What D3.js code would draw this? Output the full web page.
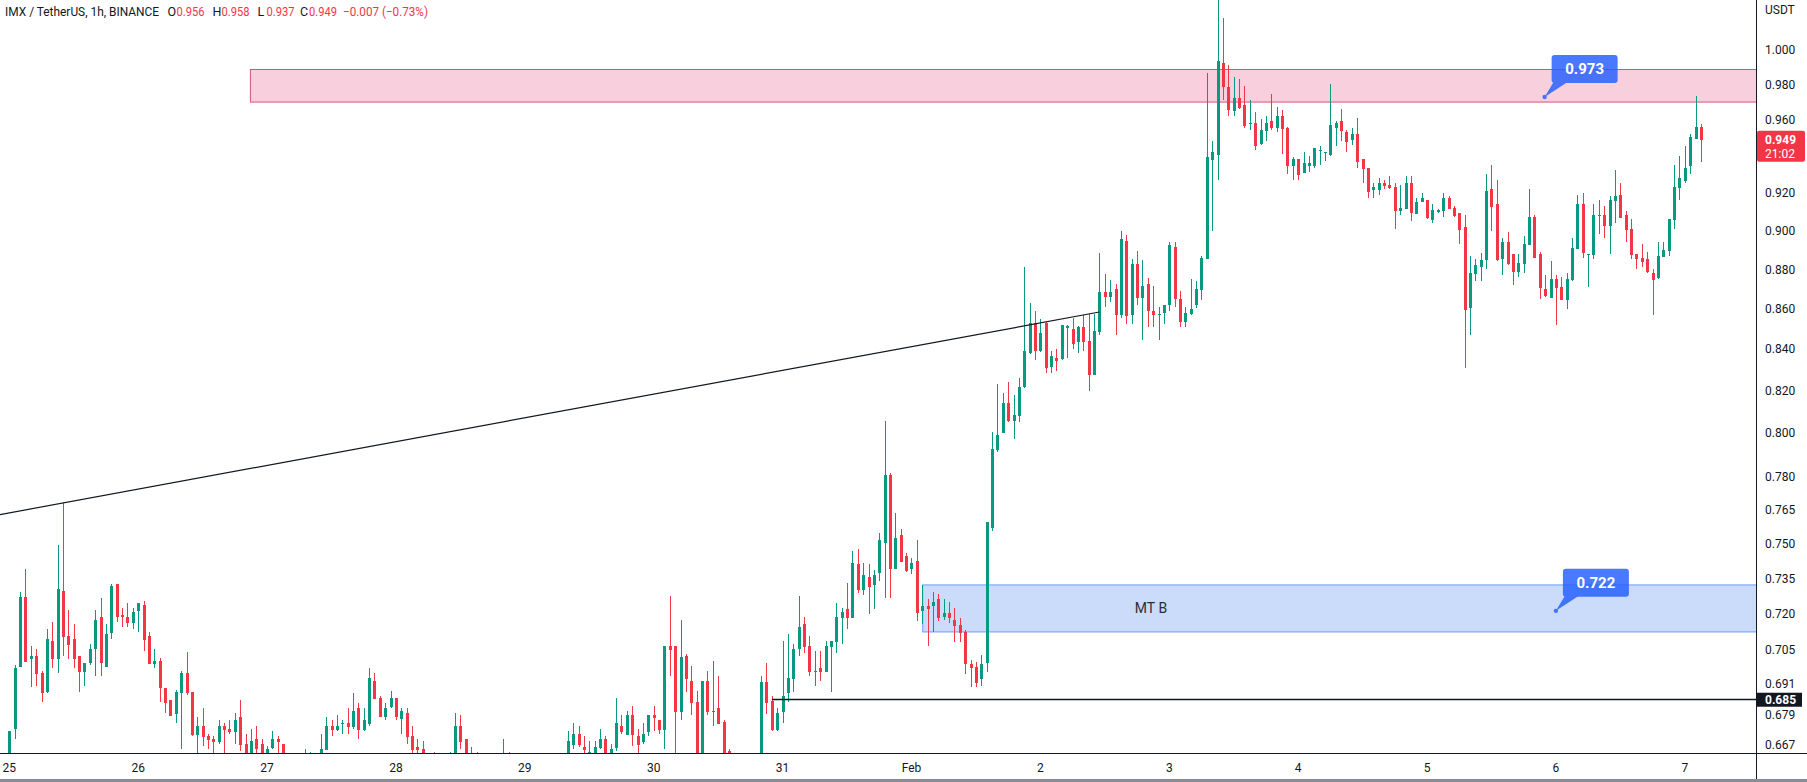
<!DOCTYPE html>
<html>
<head>
<meta charset="utf-8">
<script src="https://cdn.jsdelivr.net/npm/d3@7"></script>
<style>
  html, body { margin: 0; padding: 0; background: #fff; }
  svg { display: block; font-family: Roboto, "Liberation Sans", sans-serif; }
</style>
</head>
<body>
<svg id="chart" width="1807" height="782"></svg>
<script>
// IMX / TetherUS, 1h, BINANCE -- one row per hour, first bar = Jan 25 00:00
// [open, high, low, close]
var candles = [
  // Jan 25
  [0.660,0.6725,0.655,0.6725],[0.6732,0.6986,0.6694,0.6977],[0.698,0.729,0.698,0.727],[0.727,0.739,0.700,0.700],
  [0.7014,0.7066,0.690,0.7025],[0.7025,0.7054,0.6904,0.6953],[0.6956,0.6964,0.6837,0.6873],[0.688,0.7137,0.6876,0.7094],
  [0.7087,0.7166,0.6976,0.7013],[0.7013,0.7494,0.6957,0.7305],[0.7297,0.768,0.7026,0.7104],[0.7107,0.7216,0.7014,0.707],
  [0.7094,0.7157,0.6976,0.7014],[0.7025,0.7025,0.6877,0.6961],[0.6961,0.6998,0.6905,0.6998],[0.6995,0.7076,0.6986,0.7054],
  [0.7053,0.7216,0.6945,0.7174],[0.7187,0.7267,0.6945,0.6995],[0.6981,0.7157,0.6981,0.7116],[0.712,0.7326,0.7096,0.7318],
  [0.7326,0.7326,0.7166,0.7185],[0.7195,0.7225,0.7145,0.7185],[0.7187,0.7246,0.7145,0.7162],[0.7162,0.7225,0.7137,0.7208],
  // Jan 26
  [0.7212,0.7246,0.7124,0.7246],[0.7237,0.7254,0.7046,0.7091],[0.7107,0.7124,0.6992,0.6992],[0.6994,0.7054,0.6976,0.7005],
  [0.7005,0.7017,0.6837,0.6893],[0.6896,0.6896,0.6797,0.6833],[0.6845,0.6845,0.6784,0.6784],[0.6793,0.6885,0.6757,0.6877],
  [0.6873,0.6965,0.6656,0.6957],[0.6957,0.7043,0.6865,0.6873],[0.6877,0.6877,0.6706,0.671],[0.671,0.678,0.662,0.6745],
  [0.6745,0.6817,0.6664,0.6702],[0.6706,0.6714,0.6656,0.669],[0.6694,0.6706,0.663,0.6682],[0.6682,0.6768,0.6675,0.6745],
  [0.6745,0.6757,0.662,0.673],[0.6733,0.6768,0.6714,0.6721],[0.6721,0.6797,0.6675,0.6768],[0.678,0.6845,0.6645,0.6671],
  [0.6675,0.6714,0.658,0.660],[0.661,0.6733,0.658,0.6686],[0.6694,0.6745,0.662,0.6656],[0.6675,0.6694,0.660,0.662],
  // Jan 27
  [0.662,0.6664,0.660,0.6656],[0.666,0.6725,0.6656,0.6694],[0.6694,0.6706,0.662,0.6682],[0.6675,0.6675,0.660,0.662],
  [0.660,0.6625,0.654,0.656],[0.656,0.661,0.651,0.653],[0.653,0.660,0.650,0.658],[0.662,0.6655,0.653,0.656],
  [0.656,0.6643,0.654,0.660],[0.660,0.6625,0.655,0.657],[0.657,0.6713,0.656,0.6655],[0.6651,0.6779,0.6651,0.6744],
  [0.6744,0.6766,0.6706,0.6729],[0.6729,0.6788,0.6725,0.6744],[0.6753,0.6766,0.6713,0.6757],[0.6757,0.6816,0.6713,0.6741],
  [0.6741,0.6876,0.6733,0.6804],[0.6816,0.6836,0.6694,0.6729],[0.6729,0.6816,0.6725,0.6766],[0.6753,0.6976,0.6744,0.6936],
  [0.6924,0.6956,0.6852,0.6852],[0.6856,0.6864,0.678,0.678],[0.678,0.6836,0.6766,0.6816],[0.682,0.6884,0.6816,0.6856],
  // Jan 28
  [0.6856,0.6856,0.6766,0.678],[0.6772,0.6816,0.6713,0.6804],[0.6796,0.6816,0.6675,0.6702],[0.6706,0.6744,0.660,0.6651],
  [0.6663,0.6694,0.660,0.6651],[0.6655,0.6686,0.657,0.659],[0.659,0.662,0.653,0.656],[0.660,0.6643,0.652,0.655],
  [0.655,0.659,0.649,0.652],[0.652,0.660,0.650,0.656],[0.656,0.6643,0.654,0.661],[0.661,0.6796,0.659,0.6744],
  [0.6744,0.6788,0.6655,0.6682],[0.6694,0.6694,0.657,0.660],[0.658,0.6663,0.656,0.662],[0.662,0.6643,0.655,0.658],
  [0.658,0.661,0.652,0.655],[0.655,0.660,0.652,0.657],[0.657,0.660,0.651,0.654],[0.654,0.659,0.650,0.656],
  [0.656,0.6694,0.654,0.660],[0.660,0.6643,0.652,0.655],[0.655,0.661,0.651,0.658],[0.658,0.662,0.653,0.654],
  // Jan 29
  [0.654,0.659,0.650,0.656],[0.656,0.660,0.652,0.653],[0.653,0.658,0.649,0.655],[0.655,0.661,0.652,0.659],
  [0.659,0.662,0.654,0.656],[0.656,0.660,0.652,0.657],[0.657,0.662,0.654,0.660],[0.660,0.663,0.655,0.658],
  [0.658,0.6725,0.656,0.6686],[0.6671,0.6757,0.6655,0.6713],[0.6713,0.6744,0.6663,0.6671],[0.6663,0.6706,0.660,0.6651],
  [0.660,0.6686,0.658,0.6643],[0.661,0.6686,0.659,0.6663],[0.6659,0.6733,0.6655,0.6694],[0.6694,0.6706,0.659,0.661],
  [0.661,0.6675,0.659,0.6655],[0.6659,0.6856,0.6645,0.6757],[0.6744,0.6788,0.6712,0.6721],[0.671,0.6804,0.671,0.6788],
  [0.6788,0.6824,0.6664,0.671],[0.6706,0.6732,0.663,0.6671],[0.6682,0.6757,0.6672,0.6712],[0.6721,0.6788,0.6706,0.6788],
  // Jan 30
  [0.6788,0.6824,0.6725,0.6776],[0.6766,0.6766,0.6712,0.6729],[0.6729,0.7066,0.6654,0.7066],[0.7066,0.7275,0.6944,0.705],
  [0.7066,0.7066,0.660,0.680],[0.680,0.7174,0.6766,0.7019],[0.7025,0.7032,0.6877,0.6933],[0.6924,0.6984,0.6788,0.6833],
  [0.6837,0.6884,0.657,0.660],[0.661,0.6924,0.658,0.6924],[0.6924,0.6964,0.6788,0.680],[0.680,0.7005,0.6744,0.6804],
  [0.6817,0.6944,0.6751,0.6753],[0.6758,0.6766,0.657,0.659],[0.6648,0.6654,0.657,0.660],[0.660,0.663,0.652,0.656],
  [0.656,0.660,0.649,0.653],[0.653,0.661,0.650,0.657],[0.657,0.662,0.652,0.655],[0.655,0.662,0.653,0.659],
  [0.659,0.6944,0.656,0.6918],[0.6918,0.6998,0.6791,0.6833],[0.6844,0.6864,0.6725,0.6729],[0.6729,0.6817,0.6725,0.6797],
  // Jan 31
  [0.680,0.7087,0.6757,0.6864],[0.6873,0.7115,0.6837,0.6937],[0.6933,0.7073,0.6877,0.7053],[0.7053,0.7275,0.7025,0.7145],
  [0.7159,0.7187,0.7036,0.7063],[0.7066,0.7107,0.6944,0.696],[0.696,0.7046,0.6904,0.6964],[0.6977,0.7046,0.6924,0.696],
  [0.696,0.7087,0.696,0.7066],[0.7063,0.7087,0.6877,0.7087],[0.7083,0.7247,0.7036,0.7187],[0.718,0.7222,0.7076,0.7208],
  [0.7219,0.7328,0.7138,0.7184],[0.7184,0.7468,0.7184,0.7418],[0.7411,0.7477,0.7289,0.7301],[0.7301,0.7418,0.7279,0.7364],
  [0.7357,0.7411,0.7198,0.7315],[0.7322,0.7386,0.7219,0.7364],[0.7374,0.7548,0.7339,0.7516],[0.7504,0.8057,0.7268,0.7806],
  [0.7806,0.7816,0.7268,0.7391],[0.7391,0.7637,0.7391,0.7526],[0.7539,0.7565,0.7421,0.7421],[0.7447,0.7458,0.7378,0.7382],
  // Feb 1
  [0.7391,0.7439,0.7367,0.7418],[0.7425,0.7516,0.717,0.7205],[0.7212,0.7321,0.7156,0.7234],[0.7234,0.7262,0.7064,0.7219],
  [0.7232,0.7292,0.7122,0.7249],[0.7262,0.7283,0.717,0.718],[0.7187,0.7262,0.7172,0.7205],[0.7205,0.7249,0.7161,0.718],
  [0.7172,0.7222,0.7084,0.715],[0.7152,0.7183,0.7084,0.712],[0.7123,0.7131,0.695,0.6991],[0.6991,0.701,0.6899,0.6975],
  [0.6979,0.6999,0.6899,0.6915],[0.693,0.7029,0.6902,0.6991],[0.6998,0.7594,0.6961,0.7594],[0.7571,0.8002,0.7556,0.7926],
  [0.792,0.823,0.791,0.7988],[0.7999,0.8186,0.7999,0.8141],[0.8141,0.824,0.805,0.8055],[0.8055,0.8177,0.7971,0.8082],
  [0.8078,0.8262,0.8053,0.8219],[0.8215,0.8812,0.8211,0.8393],[0.8381,0.8628,0.8378,0.8528],[0.8527,0.8589,0.8348,0.839],
  // Feb 2
  [0.839,0.8549,0.8387,0.848],[0.8527,0.8535,0.8283,0.8307],[0.8313,0.8392,0.8283,0.8365],[0.8355,0.840,0.8296,0.8342],
  [0.8354,0.8519,0.8346,0.8519],[0.8506,0.8519,0.8355,0.8512],[0.8501,0.8552,0.840,0.8427],[0.8437,0.8516,0.8381,0.851],
  [0.851,0.8569,0.8392,0.8437],[0.8439,0.8572,0.820,0.8277],[0.8277,0.8573,0.8277,0.849],[0.8485,0.8882,0.8472,0.8685],
  [0.8684,0.8775,0.8607,0.866],[0.866,0.8748,0.8635,0.8684],[0.8699,0.8726,0.8472,0.8569],[0.8569,0.8998,0.8552,0.8958],
  [0.8949,0.8977,0.8524,0.8566],[0.8569,0.8855,0.8522,0.8829],[0.8829,0.8895,0.8617,0.8656],[0.8656,0.8846,0.8443,0.8714],
  [0.8724,0.8757,0.851,0.8588],[0.8591,0.8714,0.851,0.8569],[0.8567,0.8608,0.8443,0.8572],[0.8578,0.8621,0.8522,0.8621],
  // Feb 3
  [0.8618,0.894,0.8588,0.8928],[0.8915,0.894,0.8607,0.8651],[0.8649,0.869,0.8511,0.8536],[0.8536,0.8609,0.8511,0.8579],
  [0.8575,0.8752,0.857,0.8599],[0.8617,0.8741,0.8602,0.8701],[0.8697,0.8869,0.8642,0.8859],[0.8855,0.9867,0.8855,0.9395],
  [0.9379,0.9483,0.900,0.9423],[0.9406,1.030,0.9271,0.9937],[0.9925,1.0188,0.9713,0.9787],[0.9787,0.9913,0.9623,0.9656],
  [0.9651,0.9844,0.9623,0.9724],[0.9724,0.9832,0.9662,0.9667],[0.9685,0.9793,0.9556,0.9567],[0.9578,0.9713,0.9545,0.9584],
  [0.9584,0.9645,0.9434,0.9456],[0.9467,0.9606,0.9461,0.9545],[0.9539,0.9623,0.9483,0.9584],[0.9595,0.9747,0.9545,0.9556],
  [0.9556,0.9673,0.9534,0.9623],[0.9623,0.9656,0.9412,0.955],[0.9556,0.9561,0.9303,0.9346],[0.9346,0.9395,0.9271,0.9384],
  // Feb 4
  [0.9384,0.9384,0.9271,0.9298],[0.9308,0.9423,0.9308,0.9362],[0.9346,0.940,0.9314,0.9362],[0.9346,0.9445,0.9335,0.9445],
  [0.9428,0.9456,0.9352,0.9434],[0.9417,0.9423,0.9373,0.9423],[0.9406,0.9804,0.940,0.9573],[0.9556,0.9595,0.9456,0.9584],
  [0.9595,0.9662,0.9483,0.9539],[0.9534,0.9545,0.9423,0.9478],[0.9489,0.9556,0.9461,0.9523],[0.9523,0.9612,0.9335,0.9368],
  [0.9384,0.9384,0.9255,0.933],[0.9335,0.9335,0.9174,0.9206],[0.9217,0.9255,0.9174,0.9233],[0.9217,0.9282,0.919,0.9255],
  [0.9255,0.9271,0.9222,0.9239],[0.9244,0.9293,0.9222,0.9228],[0.9233,0.9255,0.9009,0.9104],[0.9104,0.9244,0.9083,0.912],
  [0.9115,0.9293,0.9115,0.9255],[0.9255,0.9293,0.9052,0.9094],[0.9088,0.9174,0.9088,0.9153],[0.9153,0.920,0.9153,0.9174],
  // Feb 5
  [0.9163,0.9163,0.9062,0.9068],[0.9057,0.9142,0.9041,0.911],[0.9099,0.9115,0.9094,0.911],[0.9104,0.920,0.9073,0.9174],
  [0.9174,0.9185,0.9115,0.9115],[0.912,0.9131,0.9073,0.9078],[0.9094,0.9094,0.8931,0.9004],[0.902,0.9083,0.8309,0.8594],
  [0.8604,0.8869,0.8469,0.8781],[0.8776,0.8854,0.8741,0.8823],[0.8813,0.8886,0.8741,0.8848],[0.8848,0.9303,0.8802,0.9212],
  [0.9222,0.9352,0.8999,0.9126],[0.9142,0.9271,0.8843,0.8848],[0.8854,0.8962,0.8771,0.8941],[0.8941,0.8993,0.8823,0.8828],
  [0.8879,0.8879,0.872,0.8786],[0.8786,0.8879,0.8761,0.8833],[0.8828,0.8972,0.8781,0.8931],[0.8926,0.9222,0.8926,0.9073],
  [0.9073,0.9083,0.8859,0.8859],[0.8879,0.8889,0.8649,0.8705],[0.870,0.8771,0.866,0.8665],[0.8655,0.8843,0.8655,0.8751],
  // Feb 6
  [0.8751,0.8771,0.852,0.8705],[0.871,0.8761,0.8644,0.8644],[0.8644,0.8781,0.8599,0.8751],[0.8746,0.8962,0.8741,0.891],
  [0.8905,0.919,0.8905,0.9142],[0.9142,0.920,0.8859,0.8884],[0.8874,0.8879,0.871,0.8879],[0.8874,0.9142,0.8854,0.9083],
  [0.9078,0.9163,0.8983,0.9083],[0.9083,0.9131,0.8962,0.9025],[0.9025,0.9185,0.8879,0.9163],[0.9158,0.9325,0.9041,0.9185],
  [0.919,0.9255,0.9068,0.9068],[0.9083,0.9104,0.8941,0.9004],[0.9009,0.9062,0.8854,0.8874],[0.8879,0.8879,0.8802,0.8854],
  [0.8859,0.8931,0.8812,0.8838],[0.8854,0.8889,0.8781,0.8786],[0.8781,0.8802,0.8569,0.8746],[0.8756,0.8941,0.8751,0.8869],
  [0.8864,0.8941,0.8864,0.890],[0.8895,0.9062,0.8869,0.9062],[0.9057,0.9352,0.9009,0.9233],[0.9228,0.940,0.9163,0.9282],
  // Feb 7
  [0.9266,0.9456,0.9255,0.9336],[0.9346,0.9523,0.9303,0.9506],[0.9495,0.9737,0.9495,0.9561],[0.956,0.958,0.937,0.949]
];

var dayLabels = ['25', '26', '27', '28', '29', '30', '31', 'Feb', '2', '3', '4', '5', '6', '7'];
var dayBars = [0, 24, 48, 72, 96, 120, 144, 168, 192, 216, 240, 264, 288, 312];
var priceTicks = [1.000, 0.980, 0.960, 0.920, 0.900, 0.880, 0.860, 0.840, 0.820, 0.800,
                  0.780, 0.765, 0.750, 0.735, 0.720, 0.705, 0.691, 0.679, 0.667];

var zoneTops = [0.989, 0.7324];
var zoneBottoms = [0.9704, 0.7126];
var zoneStartBars = [44.8, 170];
var zoneNames = ['', 'MT B'];

var calloutBars = [285.9, 288.0];
var calloutPrices = [0.973, 0.7212];
var calloutTexts = ['0.973', '0.722'];

var trendBars = [10, 203];
var trendPrices = [0.768, 0.8584];

var levelPrice = 0.685;
var levelStartBar = 142;

var lastPrice = 0.949;
var countdown = '21:02';

// ---------------------------------------------------------------
var plotRight = 1756, plotBottom = 753;
var upColor = '#089981', downColor = '#F23645', ink = '#131722';

var svg = d3.select('#chart');
var x = d3.scaleLinear().domain([0, candles.length - 1]).range([9.3, 1700.9]);
var y = d3.scaleLog().domain([0.66387, 1.02957]).range([plotBottom, 0]);

svg.append('defs').append('clipPath').attr('id', 'plotClip')
  .append('rect').attr('x', 0).attr('y', 0).attr('width', plotRight).attr('height', plotBottom);

var plot = svg.append('g').attr('clip-path', 'url(#plotClip)');

// zones (rectangles reaching the price axis)
var zoneFills = ['#f8d0dd', '#cadcfa'];
var zoneStrokes = ['#d9507d', '#6d9ef2'];
zoneTops.forEach(function(top, i) {
  plot.append('rect')
    .attr('x', x(zoneStartBars[i]) + 0.5)
    .attr('y', y(top) + 0.5)
    .attr('width', plotRight - x(zoneStartBars[i]) + 2)
    .attr('height', y(zoneBottoms[i]) - y(top))
    .attr('fill', zoneFills[i])
    .attr('stroke', zoneStrokes[i])
    .attr('stroke-width', 1);
});
plot.append('text')
  .attr('x', x(212.6))
  .attr('y', (y(zoneTops[1]) + y(zoneBottoms[1])) / 2)
  .attr('dy', '0.35em')
  .attr('text-anchor', 'middle')
  .attr('font-size', 14)
  .attr('fill', '#2a2e39')
  .text(zoneNames[1]);

// candles
var bars = plot.append('g').attr('shape-rendering', 'crispEdges');
bars.selectAll('rect.wick')
    .data(candles)
  .enter().append('rect')
    .attr('class', 'wick')
    .attr('x', function(d, i) { return Math.round(x(i)); })
    .attr('y', function(d) { return Math.round(y(d[1])); })
    .attr('width', 1)
    .attr('height', function(d) { return Math.max(1, Math.round(y(d[2])) - Math.round(y(d[1]))); })
    .attr('fill', function(d) { return d[3] >= d[0] ? upColor : downColor; });

bars.selectAll('rect.body')
    .data(candles)
  .enter().append('rect')
    .attr('class', 'body')
    .attr('x', function(d, i) { return Math.round(x(i)) - 1; })
    .attr('y', function(d) { return Math.round(y(Math.max(d[0], d[3]))); })
    .attr('width', 3)
    .attr('height', function(d) {
      return Math.max(1, Math.round(y(Math.min(d[0], d[3]))) - Math.round(y(Math.max(d[0], d[3]))));
    })
    .attr('fill', function(d) { return d[3] >= d[0] ? upColor : downColor; });

// trend line, extended to the left edge
var slope = (Math.log(trendPrices[1]) - Math.log(trendPrices[0])) / (trendBars[1] - trendBars[0]);
var leftBar = x.invert(0);
var leftPrice = Math.exp(Math.log(trendPrices[0]) + slope * (leftBar - trendBars[0]));
plot.append('line')
  .attr('x1', x(leftBar)).attr('y1', y(leftPrice))
  .attr('x2', x(trendBars[1])).attr('y2', y(trendPrices[1]))
  .attr('stroke', ink).attr('stroke-width', 1.2);

// horizontal level
plot.append('line')
  .attr('x1', x(levelStartBar)).attr('x2', plotRight)
  .attr('y1', Math.round(y(levelPrice)) + 0.5).attr('y2', Math.round(y(levelPrice)) + 0.5)
  .attr('stroke', ink).attr('stroke-width', 1.3);

// callouts
calloutBars.forEach(function(bar, i) {
  var px = x(bar), py = y(calloutPrices[i]);
  var bx = px + 7, by = py - 42, bw = 66, bh = 28;
  var g = plot.append('g').attr('opacity', 0.85);
  g.append('path')
    .attr('d', 'M' + (bx + 2) + ',' + (by + bh - 1) + 'L' + (bx + 16) + ',' + (by + bh - 1) + 'L' + px + ',' + py + 'Z')
    .attr('fill', '#2962ff');
  g.append('rect')
    .attr('x', bx).attr('y', by).attr('width', bw).attr('height', bh)
    .attr('rx', 3).attr('fill', '#2962ff');
  g.append('circle').attr('cx', px).attr('cy', py).attr('r', 2.2).attr('fill', '#2962ff');
  plot.append('text')
    .attr('x', bx + bw / 2).attr('y', by + bh / 2)
    .attr('dy', '0.36em')
    .attr('text-anchor', 'middle')
    .attr('font-size', 15).attr('font-weight', 'bold')
    .attr('fill', '#fff')
    .text(calloutTexts[i]);
});

// frame
svg.append('line').attr('x1', 0).attr('x2', 1807).attr('y1', plotBottom + 0.5).attr('y2', plotBottom + 0.5)
  .attr('stroke', ink).attr('stroke-width', 1);
svg.append('line').attr('x1', plotRight + 0.5).attr('x2', plotRight + 0.5).attr('y1', 0).attr('y2', 782)
  .attr('stroke', ink).attr('stroke-width', 1);
svg.append('rect').attr('x', 0).attr('y', 779).attr('width', 1807).attr('height', 3).attr('fill', '#8a8d95');

// price axis
var axisG = svg.append('g').attr('font-size', 12).attr('fill', ink);
axisG.selectAll('text.tick')
    .data(priceTicks)
  .enter().append('text')
    .attr('class', 'tick')
    .attr('x', 1765)
    .attr('y', function(d) { return y(d); })
    .attr('dy', '0.35em')
    .text(function(d) { return d.toFixed(3); });
axisG.append('text').attr('x', 1765).attr('y', 14).text('USDT');

// level label
var ly = y(levelPrice);
svg.append('rect').attr('x', plotRight + 1).attr('y', ly - 6.5).attr('width', 45).attr('height', 14).attr('fill', ink);
svg.append('text').attr('x', 1765).attr('y', ly + 0.5).attr('dy', '0.35em')
  .attr('font-size', 12).attr('font-weight', 'bold').attr('fill', '#fff').text(levelPrice.toFixed(3));

// last price label
var lp = y(lastPrice);
svg.append('rect').attr('x', plotRight + 1).attr('y', lp - 9).attr('width', 48).attr('height', 31)
  .attr('rx', 2).attr('fill', downColor);
svg.append('text').attr('x', 1765).attr('y', lp + 4.3)
  .attr('font-size', 12).attr('font-weight', 'bold').attr('fill', '#fff').text(lastPrice.toFixed(3));
svg.append('text').attr('x', 1765).attr('y', lp + 18.5)
  .attr('font-size', 12).attr('fill', '#fff').text(countdown);

// time axis
svg.append('g').attr('font-size', 12).attr('fill', ink)
  .selectAll('text')
    .data(dayLabels)
  .enter().append('text')
    .attr('x', function(d, i) { return x(dayBars[i]); })
    .attr('y', 771.5)
    .attr('text-anchor', 'middle')
    .text(function(d) { return d; });

// header legend
var last = candles[candles.length - 1];
var header = svg.append('text').attr('y', 15.5).attr('font-size', 12.5).attr('fill', ink);
header.append('tspan').attr('x', 5).attr('textLength', 154).attr('lengthAdjust', 'spacingAndGlyphs')
  .text('IMX / TetherUS, 1h, BINANCE');
var parts = [['O', last[0], 167.5], ['H', last[1], 212.5], ['L', last[2], 257.5], ['C', last[3], 300]];
parts.forEach(function(p) {
  header.append('tspan').attr('x', p[2]).text(p[0]);
  header.append('tspan').attr('x', p[2] + 9).attr('fill', downColor)
    .attr('textLength', 28).attr('lengthAdjust', 'spacingAndGlyphs')
    .text(p[1].toFixed(3));
});
header.append('tspan').attr('x', 343).attr('fill', downColor)
  .attr('textLength', 85).attr('lengthAdjust', 'spacingAndGlyphs')
  .text('\u22120.007 (\u22120.73%)');
</script>
</body>
</html>
